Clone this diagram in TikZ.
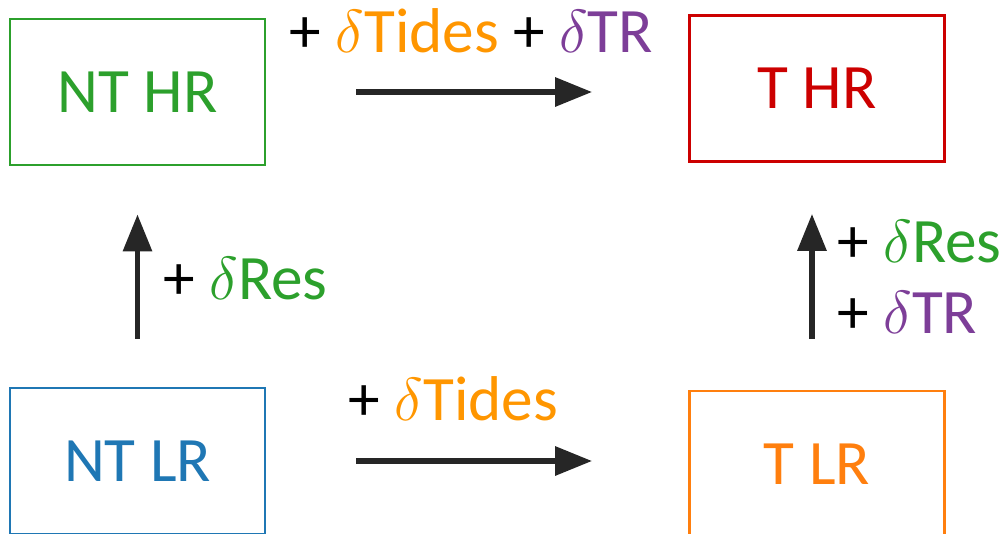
\documentclass[tikz,border=0pt]{standalone}
\usepackage{fontspec}
\setmainfont{Carlito}
\usepackage{tikz}
\usetikzlibrary{positioning, arrows.meta}
\usepackage{xcolor}
\definecolor{ntgreen}{RGB}{44, 160, 44}
\definecolor{ntblue}{RGB}{31, 119, 180}
\definecolor{tred}{RGB}{204, 0, 0}
\definecolor{torange}{RGB}{255, 127, 14}
\definecolor{tidesorange}{RGB}{255, 150, 0}
\definecolor{trpurple}{RGB}{125, 62, 152}
\definecolor{flowgray}{RGB}{38, 38, 38}

\begin{document}
\begin{tikzpicture}[every node/.style={font=\fontsize{18}{21}\selectfont},
    state/.style={draw, line width=0.75pt, minimum width=2.55cm, minimum height=1.46cm, inner sep=0pt},
    flow/.style={draw=flowgray, line width=1.7pt, -{Triangle[length=0.37cm, width=0.28cm]}}]
      \useasboundingbox (0, 0) rectangle (10.06, 5.33);
      \node[state, ntgreen] (nthr) at (1.375, 4.41) {NT HR};
      \node[state, tred] (thr) at (8.17, 4.445) {T HR};
      \node[state, ntblue] (ntlr) at (1.375, 0.72) {NT LR};
      \node[state, torange] (tlr) at (8.17, 0.69) {T LR};
      \draw[flow, shorten <=0.9cm, shorten >=0.96cm] (nthr.east) -- (nthr.east -| thr.west);
      \draw[flow, shorten <=0.9cm, shorten >=0.96cm] (ntlr.east) -- (ntlr.east -| tlr.west);
      \draw[flow, shorten <=0.48cm, shorten >=0.48cm] (ntlr.north) -- (nthr.south);
      \draw[flow, shorten <=0.51cm, shorten >=0.51cm] ([xshift=-0.05cm]tlr.north) -- ([xshift=-0.05cm]thr.south);
      \node[anchor=base] (toplbl) at (4.715, 4.81)
        {+ \textcolor{tidesorange}{$\delta$Tides} + \textcolor{trpurple}{$\delta$TR}};
      \node[anchor=base] (botlbl) at (4.535, 1.13) {+ \textcolor{tidesorange}{$\delta$Tides}};
      \node[anchor=base west, inner sep=0pt] (leftlbl) at (1.63, 2.34) {+ \textcolor{ntgreen}{$\delta$Res}};
      \node[anchor=base west, inner sep=0pt] (reslbl) at (8.37, 2.71) {+ \textcolor{ntgreen}{$\delta$Res}};
      \node[anchor=base west, inner sep=0pt] (trlbl) at (8.37, 2.00) {+ \textcolor{trpurple}{$\delta$TR}};
\end{tikzpicture}
\end{document}
